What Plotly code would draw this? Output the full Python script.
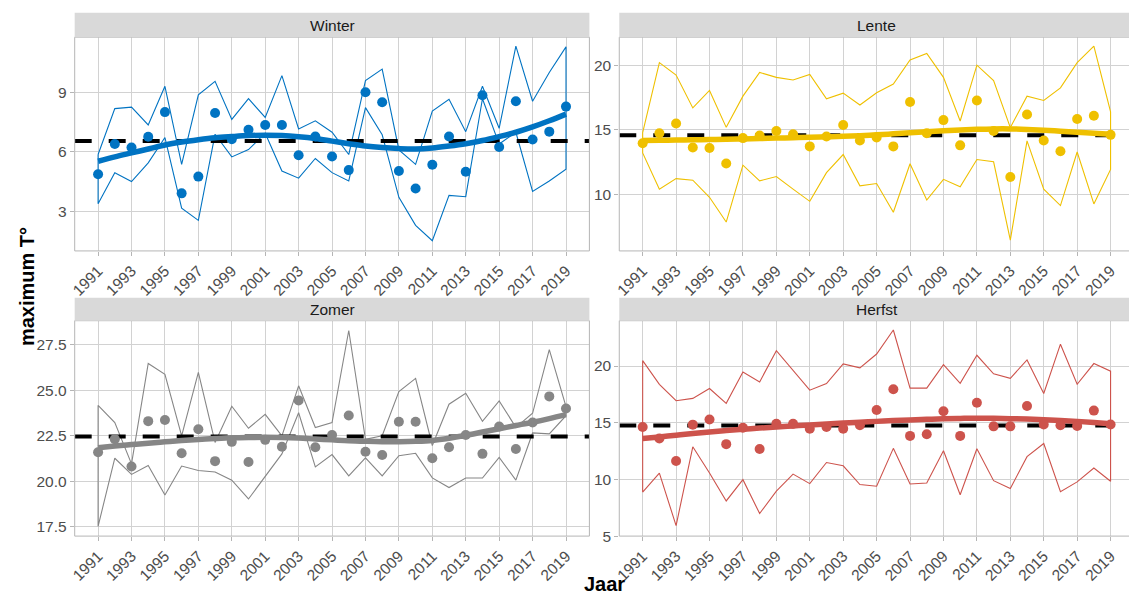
import plotly.graph_objects as go

# ---- data -------------------------------------------------------------
years = list(range(1991, 2020))

winter_pts = [4.87, 6.4, 6.23, 6.77, 8.02, 3.9, 4.75, 7.98, 6.65, 7.12, 7.37, 7.37, 5.83, 6.78, 5.77,
              5.08, 9.03, 8.52, 5.03, 4.15, 5.35, 6.78, 5.0, 8.88, 6.25, 8.57, 6.63, 7.03, 8.3]
winter_hi = [5.87, 8.2, 8.27, 7.37, 9.33, 5.37, 8.9, 9.58, 7.65, 8.7, 7.75, 9.87, 7.17, 7.58, 7.0,
             5.87, 9.62, 10.2, 6.1, 5.37, 8.07, 8.67, 7.03, 9.33, 7.2, 11.37, 8.57, 10.03, 11.33]
winter_lo = [3.37, 4.95, 4.5, 5.45, 6.73, 3.15, 2.53, 6.9, 5.75, 6.12, 6.95, 5.03, 4.67, 5.67, 4.95,
             4.53, 8.25, 6.87, 3.7, 2.28, 1.5, 3.8, 3.73, 8.7, 6.4, 7.0, 4.0, 4.53, 5.12]
winter_trend = [5.53, 5.75, 5.95, 6.15, 6.35, 6.5, 6.62, 6.72, 6.78, 6.83, 6.85, 6.83, 6.77, 6.68, 6.55,
                6.42, 6.3, 6.22, 6.17, 6.15, 6.2, 6.3, 6.42, 6.58, 6.78, 7.0, 7.27, 7.58, 7.92]
winter_mean = 6.55

lente_pts = [13.98, 14.75, 15.5, 13.65, 13.6, 12.41, 14.37, 14.57, 14.92, 14.67, 13.73, 14.49, 15.38, 14.19, 14.42,
             13.73, 17.16, 14.75, 15.76, 13.81, 17.28, 14.92, 11.37, 16.19, 14.19, 13.35, 15.84, 16.09, 14.62]
lente_hi = [14.8, 20.2, 19.24, 16.7, 18.05, 15.2, 17.61, 19.44, 19.06, 18.86, 19.29, 17.41, 17.84, 16.93, 17.87,
            18.55, 20.4, 20.91, 19.06, 15.69, 20.0, 18.81, 15.18, 17.61, 17.28, 18.25, 20.2, 21.47, 16.4]
lente_lo = [13.22, 10.43, 11.24, 11.12, 9.8, 7.89, 12.28, 11.07, 11.4, 10.43, 9.49, 11.7, 13.1, 10.69, 10.86,
            8.65, 12.39, 9.59, 11.19, 10.61, 12.72, 12.54, 6.5, 14.16, 10.43, 9.16, 13.3, 9.29, 11.95]
lente_trend = [14.18, 14.2, 14.22, 14.24, 14.26, 14.28, 14.31, 14.34, 14.37, 14.4, 14.43, 14.47, 14.51, 14.56, 14.62,
               14.7, 14.78, 14.86, 14.93, 15.0, 15.05, 15.08, 15.08, 15.04, 14.98, 14.9, 14.82, 14.74, 14.66]
lente_mean = 14.6

zomer_pts = [21.59, 22.31, 20.81, 23.3, 23.36, 21.53, 22.85, 21.1, 22.16, 21.05, 22.27, 21.89, 24.44, 21.86, 22.54,
             23.61, 21.62, 21.44, 23.27, 23.27, 21.26, 21.86, 22.54, 21.5, 23.0, 21.77, 23.22, 24.66, 23.99]
zomer_hi = [24.17, 23.22, 20.95, 26.47, 25.87, 22.49, 25.98, 22.13, 24.12, 22.91, 23.67, 22.49, 25.24, 22.95, 23.22,
            28.28, 22.3, 22.5, 24.92, 25.65, 21.96, 24.23, 24.83, 23.29, 24.41, 22.96, 23.73, 27.23, 24.1]
zomer_lo = [17.52, 21.26, 20.37, 20.86, 19.24, 20.83, 20.59, 20.5, 20.05, 19.02, 20.23, 21.5, 23.76, 20.78, 21.46,
            20.29, 21.28, 20.29, 21.4, 21.53, 20.18, 19.65, 20.17, 20.17, 21.3, 20.06, 22.65, 22.6, 23.6]
zomer_trend = [21.84, 21.93, 22.01, 22.09, 22.16, 22.23, 22.29, 22.34, 22.38, 22.4, 22.41, 22.4, 22.37, 22.32, 22.27,
               22.22, 22.19, 22.17, 22.17, 22.19, 22.24, 22.36, 22.52, 22.7, 22.88, 23.06, 23.24, 23.44, 23.66]
zomer_mean = 22.45

herfst_pts = [14.62, 13.61, 11.63, 14.83, 15.29, 13.11, 14.56, 12.68, 14.91, 14.91, 14.48, 14.62, 14.48, 14.77, 16.13,
              17.96, 13.84, 13.98, 16.02, 13.84, 16.77, 14.68, 14.68, 16.48, 14.85, 14.77, 14.71, 16.07, 14.85]
herfst_hi = [20.48, 18.39, 16.94, 17.15, 18.02, 16.71, 19.47, 18.6, 21.35, 19.61, 17.87, 18.45, 20.19, 19.84, 21.06,
             23.18, 18.05, 18.05, 20.13, 18.48, 20.95, 19.32, 18.92, 20.54, 17.58, 21.93, 18.39, 20.22, 19.55]
herfst_lo = [8.88, 10.56, 5.92, 12.88, 10.56, 8.1, 9.98, 6.99, 8.97, 10.47, 9.63, 11.49, 11.2, 9.55, 9.4,
             12.74, 9.6, 9.69, 12.53, 8.65, 12.71, 9.89, 9.2, 12.01, 13.17, 8.91, 9.78, 11.0, 9.84]
herfst_trend = [13.6, 13.75, 13.9, 14.05, 14.19, 14.31, 14.42, 14.53, 14.63, 14.72, 14.81, 14.89, 14.97, 15.05, 15.12,
                15.19, 15.25, 15.3, 15.35, 15.38, 15.4, 15.39, 15.36, 15.32, 15.26, 15.2, 15.12, 15.03, 14.92]
herfst_mean = 14.75

seasons = ["Winter", "Lente", "Zomer", "Herfst"]
x_ticks = list(range(1991, 2020, 2))
y_ticks = {
    "Winter": ([3, 6, 9], ["3", "6", "9"]),
    "Lente": ([10, 15, 20], ["10", "15", "20"]),
    "Zomer": ([17.5, 20, 22.5, 25, 27.5], ["17.5", "20.0", "22.5", "25.0", "27.5"]),
    "Herfst": ([5, 10, 15, 20], ["5", "10", "15", "20"]),
}

# ---- styling / layout -------------------------------------------------
W, H = 1129, 604
colors = {"Winter": "#0073C2", "Lente": "#EFC000", "Zomer": "#868686", "Herfst": "#CD534C"}
series = {
    "Winter": (winter_pts, winter_hi, winter_lo, winter_trend, winter_mean),
    "Lente": (lente_pts, lente_hi, lente_lo, lente_trend, lente_mean),
    "Zomer": (zomer_pts, zomer_hi, zomer_lo, zomer_trend, zomer_mean),
    "Herfst": (herfst_pts, herfst_hi, herfst_lo, herfst_trend, herfst_mean),
}
y_ranges = {"Winter": [0.98, 11.82], "Lente": [5.66, 22.16],
            "Zomer": [16.98, 28.82], "Herfst": [5.0, 24.0]}

# pixel boxes of each panel: (left, right, top, bottom)
cols = [(70, 587), (617, 1134)]
rows = [(37.7, 254.3), (325.0, 543.3)]
strip_rows = [(13.0, 37.7), (301.7, 325.0)]
x_full = [1989.6, 2020.4]

FONT = "Liberation Sans, Arial, sans-serif"
GRID = "#d2d2d2"
BORDER = "#b5b5b5"
TICKTXT = "#4d4d4d"

fig = go.Figure()
shapes, annotations = [], []
layout_axes = {}

for i, name in enumerate(seasons):
    k = i + 1
    r, c = divmod(i, 2)
    left, right = cols[c]
    top, bottom = rows[r]
    px_per_year = (right - left) / (x_full[1] - x_full[0])
    vis_right = min(right, W)
    x_range = [x_full[0], x_full[0] + (vis_right - left) / px_per_year]
    xd = [left / W, vis_right / W]
    yd = [1 - bottom / H, 1 - top / H]

    pts, hi, lo, trend, mean = series[name]
    col = colors[name]
    xa, ya = f"x{k}", f"y{k}"

    # min/max envelope as a closed outline
    env_x = years + years[::-1] + [years[0]]
    env_y = hi + lo[::-1] + [hi[0]]
    fig.add_trace(go.Scatter(x=env_x, y=env_y, mode="lines",
                             line=dict(color=col, width=1.1),
                             xaxis=xa, yaxis=ya, hoverinfo="skip"))
    # long-term mean
    fig.add_trace(go.Scatter(x=x_full, y=[mean, mean], mode="lines",
                             line=dict(color="black", width=4, dash="17px,17px"),
                             xaxis=xa, yaxis=ya, hoverinfo="skip"))
    # smoothed trend
    fig.add_trace(go.Scatter(x=years, y=trend, mode="lines",
                             line=dict(color=col, width=5.5, shape="spline"),
                             xaxis=xa, yaxis=ya))
    # yearly values
    fig.add_trace(go.Scatter(x=years, y=pts, mode="markers",
                             marker=dict(color=col, size=10),
                             xaxis=xa, yaxis=ya))

    tv, tt = y_ticks[name]
    layout_axes[f"xaxis{k}"] = dict(
        domain=xd, range=x_range, anchor=ya, tickmode="array", tickvals=x_ticks,
        tickangle=-45, ticks="outside", ticklen=4, tickcolor=BORDER,
        tickfont=dict(family=FONT, size=15.5, color=TICKTXT),
        showgrid=True, gridcolor=GRID, gridwidth=1, zeroline=False, showline=False)
    layout_axes[f"yaxis{k}"] = dict(
        domain=yd, range=y_ranges[name], anchor=xa, tickmode="array",
        tickvals=tv, ticktext=tt, ticks="outside", ticklen=4, tickcolor=BORDER,
        tickfont=dict(family=FONT, size=15.5, color=TICKTXT),
        showgrid=True, gridcolor=GRID, gridwidth=1, zeroline=False, showline=False)

    # panel border
    shapes.append(dict(type="rect", xref="paper", yref="paper",
                       x0=left / W, x1=right / W, y0=yd[0], y1=yd[1],
                       line=dict(color=BORDER, width=1), fillcolor="rgba(0,0,0,0)",
                       layer="above"))
    # facet strip
    s_top, s_bot = strip_rows[r]
    shapes.append(dict(type="rect", xref="paper", yref="paper",
                       x0=left / W, x1=right / W, y0=1 - s_bot / H, y1=1 - s_top / H,
                       line=dict(width=0), fillcolor="#d9d9d9"))
    annotations.append(dict(text=name, xref="paper", yref="paper",
                            x=(left + right) / 2 / W, y=1 - (s_top + s_bot) / 2 / H,
                            xanchor="center", yanchor="middle", showarrow=False,
                            font=dict(family=FONT, size=15.5, color="#1a1a1a")))

annotations.append(dict(text="<b>maximum T°</b>", xref="paper", yref="paper",
                        x=22 / W, y=1 - 290 / H, textangle=-90, showarrow=False,
                        xanchor="center", yanchor="middle",
                        font=dict(family=FONT, size=20, color="black")))
annotations.append(dict(text="<b>Jaar</b>", xref="paper", yref="paper",
                        x=602 / W, y=1 - 592 / H, showarrow=False,
                        xanchor="center", yanchor="middle",
                        font=dict(family=FONT, size=20, color="black")))

fig.update_layout(
    width=W, height=H, margin=dict(l=0, r=0, t=0, b=0),
    paper_bgcolor="white", plot_bgcolor="white", showlegend=False,
    shapes=shapes, annotations=annotations, **layout_axes)

fig.write_html("out.html")
